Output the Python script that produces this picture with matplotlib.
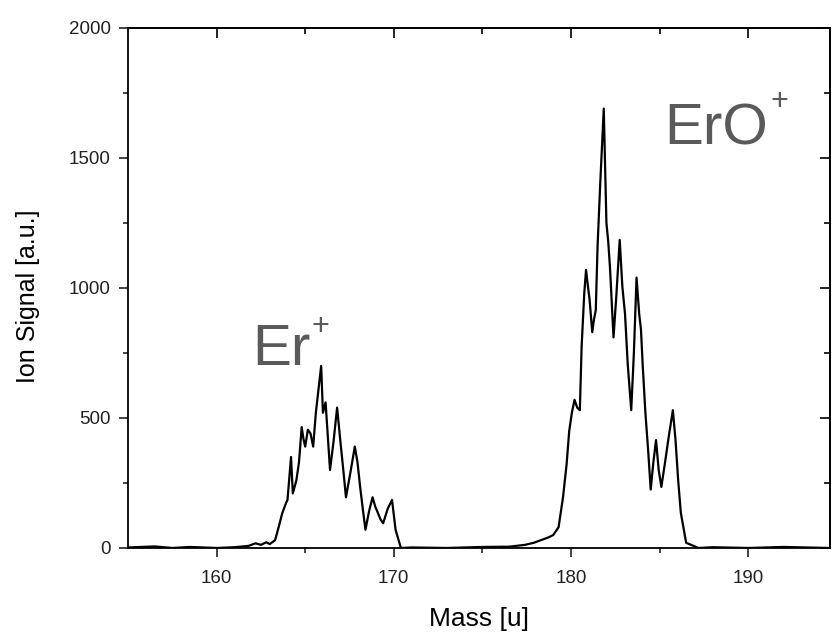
import numpy as np
import matplotlib
matplotlib.use("Agg")
import matplotlib.pyplot as plt

plt.rcParams['font.family'] = ['Liberation Sans', 'DejaVu Sans']

# mass spectrum trace (mass [u], signal [a.u.])
mass = [155.0, 156.5, 157.5, 158.5, 160.0, 161.0, 161.8, 162.2, 162.5, 162.8,
        163.0, 163.3, 163.5, 163.7, 163.9, 164.0, 164.2, 164.3, 164.5, 164.65,
        164.8, 164.9, 165.0, 165.15, 165.3, 165.45, 165.6, 165.75, 165.9, 166.0,
        166.15, 166.4, 166.6, 166.8, 166.9, 167.0, 167.15, 167.3, 167.55, 167.8,
        167.95, 168.1, 168.25, 168.4, 168.6, 168.8, 168.95, 169.1, 169.25, 169.4,
        169.65, 169.9, 170.1, 170.4, 171.0, 173.0, 175.0, 176.5, 177.4, 177.9,
        178.3, 178.7, 179.0, 179.3, 179.55, 179.75, 179.9, 180.05, 180.2, 180.35,
        180.5, 180.6, 180.75, 180.85, 180.95, 181.05, 181.2, 181.3, 181.4, 181.5,
        181.65, 181.85, 182.0, 182.1, 182.2, 182.4, 182.55, 182.75, 182.9, 183.05,
        183.2, 183.4, 183.55, 183.7, 183.85, 183.95, 184.05, 184.2, 184.35, 184.5,
        184.65, 184.8, 184.95, 185.1, 185.3, 185.5, 185.75, 185.9, 186.05, 186.2,
        186.5, 187.2, 188.0, 190.0, 192.0, 194.6]
signal = [2, 6, 0, 4, 0, 3, 8, 18, 12, 22,
          15, 30, 80, 133, 170, 185, 350, 210, 260, 330,
          465, 420, 390, 455, 440, 390, 520, 610, 700, 520,
          560, 300, 410, 540, 470, 400, 300, 195, 290, 390,
          330, 235, 150, 70, 140, 195, 160, 135, 110, 95,
          150, 185, 70, 0, 2, 0, 4, 5, 12, 20,
          30, 40, 50, 80, 195, 320, 450, 520, 570, 540,
          530, 775, 980, 1070, 1010, 955, 830, 880, 915, 1160,
          1400, 1690, 1250, 1180, 1080, 810, 960, 1185, 1005, 900,
          710, 530, 750, 1040, 900, 840, 700, 520, 380, 225,
          330, 415, 300, 235, 325, 420, 530, 415, 260, 135,
          20, 0, 3, 0, 4, 0]

xticks = [160, 170, 180, 190]
xminor = [165, 175, 185]
yticks = [0, 500, 1000, 1500, 2000]
yminor = [250, 750, 1250, 1750]

fig = plt.figure(figsize=(8.33, 6.33), dpi=100)
ax = fig.add_axes([0.1537, 0.1343, 0.8423, 0.8215])

ax.plot(mass, signal, color='black', linewidth=1.6)

ax.set_xlim(155, 194.6)
ax.set_ylim(0, 2000)
ax.set_xticks(xticks)
ax.set_yticks(yticks)
ax.set_xticks(xminor, minor=True)
ax.set_yticks(yminor, minor=True)
ax.tick_params(which='both', direction='out', labelsize=13.5, colors='#222222')
ax.tick_params(axis='x', which='major', pad=9)
ax.tick_params(axis='y', which='major', pad=6)
ax.tick_params(which='major', length=6.5, width=1.2)
ax.tick_params(which='minor', length=3.6, width=1.2)

# top and right ticks point inwards
top = ax.secondary_xaxis('top')
top.set_xticks(xticks)
top.set_xticks(xminor, minor=True)
top.tick_params(which='both', direction='in', labeltop=False, width=1.2)
top.tick_params(which='major', length=7)
top.tick_params(which='minor', length=4)
right = ax.secondary_yaxis('right')
right.set_yticks(yticks)
right.set_yticks(yminor, minor=True)
right.tick_params(which='both', direction='in', labelright=False, width=1.2)
right.tick_params(which='major', length=7)
right.tick_params(which='minor', length=4)

for s in list(ax.spines.values()) + [top.spines['top'], right.spines['right']]:
    s.set_linewidth(1.3)

ax.set_xlabel('Mass [u]', fontsize=19, labelpad=15)
ax.set_ylabel('Ion Signal [a.u.]', fontsize=18)
ax.yaxis.set_label_coords(-0.125, 0.485)

grey = '#5a5a5a'
ax.text(162.0, 704, 'Er', fontsize=42, color=grey, va='baseline')
ax.text(165.85, 850, '+', fontsize=22, color=grey, ha='center', va='center')
ax.text(185.25, 1550, 'ErO', fontsize=42, color=grey, va='baseline')
ax.text(191.75, 1715, '+', fontsize=22, color=grey, ha='center', va='center')

fig.savefig('out.png', dpi=100)
